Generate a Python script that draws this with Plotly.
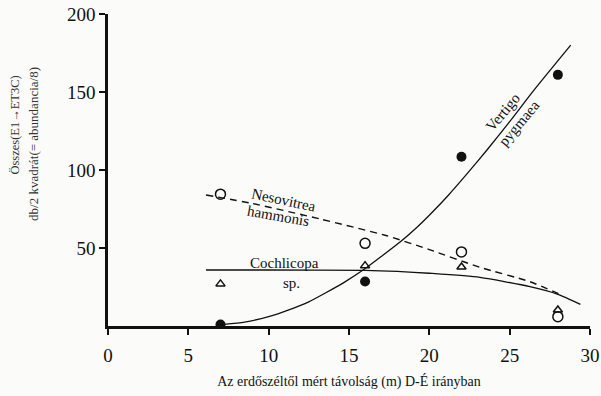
import plotly.graph_objects as go

# Sampling distances (m)
dist = [7, 16, 22, 28]
# Observed values
vertigo = [1, 28.5, 108.5, 161]      # filled circles
nesovitrea = [84.5, 53, 47.5, 6]     # open circles
cochlicopa = [27, 38.7, 37.8, 10.3]  # open triangles

# Fitted trend curves
vert_curve_x = [7.2, 8.5, 10, 11.3, 12.5, 13.5, 14.7, 15.9, 17, 18.2, 19.2, 20, 21.2, 22.3, 23.6, 25, 26.5, 28.8]
vert_curve_y = [1, 2.5, 6, 10.5, 15.5, 21, 28, 36, 44.5, 54, 63, 71, 84, 97, 113, 131, 151, 180]
neso_curve_x = [6.1, 9, 13.2, 17.3, 20, 23.15, 26.26, 28.3]
neso_curve_y = [84, 78.5, 68.6, 58, 49, 37.6, 28.4, 19.5]
coch_curve_x = [6.1, 10, 16, 18, 20, 23.15, 26.26, 28, 29.4]
coch_curve_y = [35.9, 35.9, 35.6, 35, 33.8, 31.2, 25.2, 20.3, 13.9]

x_ticks = [0, 5, 10, 15, 20, 25, 30]
y_ticks = [50, 100, 150, 200]

FONT = "Liberation Serif, Times New Roman, Times, serif"
INK = "#111111"
BG = "#fbfbf9"

fig = go.Figure()
fig.add_trace(go.Scatter(x=vert_curve_x, y=vert_curve_y, mode="lines",
                         line=dict(color=INK, width=1.3, shape="spline", smoothing=0.6), showlegend=False))
fig.add_trace(go.Scatter(x=neso_curve_x, y=neso_curve_y, mode="lines",
                         line=dict(color=INK, width=1.4, shape="spline", smoothing=0.6, dash="7px,5px"),
                         showlegend=False))
fig.add_trace(go.Scatter(x=coch_curve_x, y=coch_curve_y, mode="lines",
                         line=dict(color=INK, width=1.3, shape="spline", smoothing=0.6), showlegend=False))
fig.add_trace(go.Scatter(x=dist, y=vertigo, mode="markers",
                         marker=dict(symbol="circle", size=10, color=INK), showlegend=False))
fig.add_trace(go.Scatter(x=dist, y=nesovitrea, mode="markers",
                         marker=dict(symbol="circle-open", size=10, color=INK, line=dict(width=1.5)),
                         showlegend=False))
fig.add_trace(go.Scatter(x=dist, y=cochlicopa, mode="markers",
                         marker=dict(symbol="triangle-up-open", size=8, color=INK, line=dict(width=1.5)),
                         showlegend=False))

annos = [
    dict(x=10.9, y=80.8, text="Nesovitrea", textangle=12),
    dict(x=10.6, y=70.5, text="hammonis", textangle=10),
    dict(x=11.0, y=40.4, text="Cochlicopa", textangle=0),
    dict(x=11.45, y=27.6, text="sp.", textangle=0),
    dict(x=24.6, y=137, text="Vertigo", textangle=-50),
    dict(x=25.6, y=130, text="pygmaea", textangle=-50),
]
for a in annos:
    fig.add_annotation(x=a["x"], y=a["y"], text=a["text"], textangle=a["textangle"],
                       showarrow=False, font=dict(family=FONT, size=15, color=INK))

# Y axis titles (two lines, rotated)
fig.add_annotation(xref="paper", yref="paper", x=-0.192, y=0.644, text="Összes(E1→ET3C)",
                   xanchor="center", yanchor="middle",
                   textangle=-90, showarrow=False, font=dict(family=FONT, size=12.5, color="#333"))
fig.add_annotation(xref="paper", yref="paper", x=-0.156, y=0.583, text="db/2 kvadrát(= abundancia/8)",
                   xanchor="center", yanchor="middle",
                   textangle=-90, showarrow=False, font=dict(family=FONT, size=13, color="#333"))

fig.update_layout(
    width=601, height=396,
    margin=dict(l=108, r=11, t=14, b=70, autoexpand=False),
    paper_bgcolor=BG, plot_bgcolor=BG,
    font=dict(family=FONT, color=INK),
    xaxis=dict(range=[0, 30], tickvals=x_ticks, ticktext=[str(v) for v in x_ticks],
               automargin=False, ticklabeloverflow="allow",
               showgrid=False, zeroline=False, showline=True, linecolor=INK, linewidth=2.5,
               ticks="outside", ticklen=6, tickwidth=1.5, tickcolor=INK, ticklabelstandoff=4,
               tickfont=dict(family=FONT, size=19, color=INK),
               title=dict(text="Az erdőszéltől mért távolság (m) D-É irányban",
                          font=dict(family=FONT, size=14, color=INK), standoff=12)),
    yaxis=dict(range=[0, 200], tickvals=y_ticks, ticktext=[str(v) for v in y_ticks],
               automargin=False, ticklabeloverflow="allow",
               showgrid=False, zeroline=False, showline=True, linecolor=INK, linewidth=2.5,
               ticks="outside", ticklen=6, tickwidth=1.5, tickcolor=INK,
               tickfont=dict(family=FONT, size=19, color=INK)),
)

# remove the default 8px page margin so the figure fills the window exactly
fig.write_html("out.html", config={"displayModeBar": False},
               post_script="document.body.style.margin='0px';")
